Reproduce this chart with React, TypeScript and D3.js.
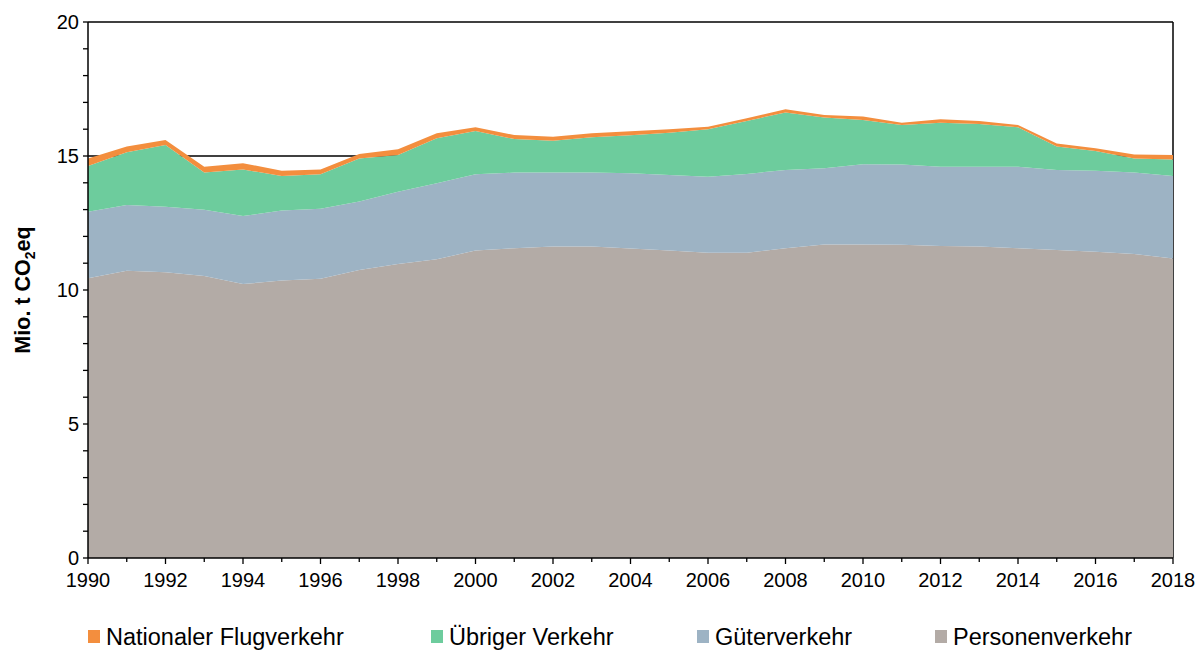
import React from "react";
import * as d3 from "d3";

const years = [1990,1991,1992,1993,1994,1995,1996,1997,1998,1999,2000,2001,2002,2003,2004,2005,2006,2007,2008,2009,2010,2011,2012,2013,2014,2015,2016,2017,2018];
const personenverkehr = [10.44,10.72,10.66,10.52,10.22,10.35,10.42,10.75,10.97,11.15,11.47,11.56,11.62,11.62,11.55,11.47,11.39,11.39,11.56,11.70,11.70,11.69,11.64,11.62,11.56,11.49,11.43,11.34,11.18];
const gueterverkehr = [2.48,2.45,2.45,2.47,2.54,2.62,2.61,2.55,2.70,2.83,2.85,2.82,2.76,2.76,2.81,2.82,2.84,2.94,2.92,2.84,2.99,2.99,2.96,2.98,3.04,2.99,3.02,3.04,3.07];
const uebrigerVerkehr = [1.71,1.97,2.30,1.39,1.74,1.28,1.29,1.61,1.37,1.68,1.61,1.25,1.19,1.32,1.41,1.58,1.77,1.98,2.14,1.90,1.65,1.48,1.64,1.59,1.47,0.87,0.74,0.53,0.62];
const flugverkehr = [0.28,0.21,0.19,0.22,0.23,0.20,0.18,0.16,0.21,0.19,0.14,0.15,0.15,0.15,0.15,0.13,0.09,0.10,0.12,0.09,0.13,0.08,0.13,0.12,0.09,0.12,0.10,0.15,0.17];

const seriesKeys = ["Personenverkehr", "Güterverkehr", "Übriger Verkehr", "Nationaler Flugverkehr"];
const seriesColors = ["#B3ABA6", "#9DB3C4", "#6DCC9D", "#F38E3E"];
const legendOrder = ["Nationaler Flugverkehr", "Übriger Verkehr", "Güterverkehr", "Personenverkehr"];
const yTickLabels = [0, 5, 10, 15, 20];
const xTickLabels = [1990,1992,1994,1996,1998,2000,2002,2004,2006,2008,2010,2012,2014,2016,2018];

export default function App() {
  const W = 1204, H = 651;
  const left = 88, right = 1173, top = 22, bottom = 558;
  const x = d3.scaleLinear().domain([1990, 2018]).range([left, right]);
  const y = d3.scaleLinear().domain([0, 20]).range([bottom, top]);

  const table = years.map((yr, i) => ({
    year: yr,
    "Personenverkehr": personenverkehr[i],
    "Güterverkehr": gueterverkehr[i],
    "Übriger Verkehr": uebrigerVerkehr[i],
    "Nationaler Flugverkehr": flugverkehr[i],
  }));
  const stacked = d3.stack<any>().keys(seriesKeys)(table);
  const area = d3.area<any>()
    .x((d) => x(d.data.year))
    .y0((d) => y(d[0]))
    .y1((d) => y(d[1]));

  const font = "Arial, 'Liberation Sans', sans-serif";
  const yMinor = d3.range(0, 21, 1);
  const xMinor = d3.range(1990, 2019, 1);
  const legendX = [88, 431, 697, 935];

  return (
    <svg width={W} height={H} style={{ position: "absolute", left: 0, top: 0, background: "#fff" }} fontFamily={font}>
      {[5, 10, 15, 20].map((v) => (
        <line key={"g" + v} x1={left} x2={right} y1={y(v)} y2={y(v)} stroke="#000" strokeWidth={1.5} />
      ))}
      <line x1={right} x2={right} y1={top} y2={bottom} stroke="#000" strokeWidth={1.5} />

      {stacked.map((s, i) => (
        <path key={s.key} d={area(s) || ""} fill={seriesColors[i]} />
      ))}

      <line x1={left} x2={left} y1={top} y2={bottom} stroke="#000" strokeWidth={1.5} />
      <line x1={left} x2={right} y1={bottom} y2={bottom} stroke="#000" strokeWidth={1.5} />
      {yMinor.map((v) => (
        <line key={"yt" + v} x1={left - 5} x2={left} y1={y(v)} y2={y(v)} stroke="#000" strokeWidth={1.3} />
      ))}
      {xMinor.map((v) => (
        <line key={"xt" + v} x1={x(v)} x2={x(v)} y1={bottom} y2={bottom + (v % 2 === 0 ? 6 : 4)} stroke="#000" strokeWidth={1.3} />
      ))}
      {yTickLabels.map((v) => (
        <text key={"yl" + v} x={left - 9} y={y(v)} dy="0.35em" textAnchor="end" fontSize={20} fill="#000">{v}</text>
      ))}
      {xTickLabels.map((v) => (
        <text key={"xl" + v} x={x(v)} y={bottom + 29} textAnchor="middle" fontSize={20} fill="#000">{v}</text>
      ))}

      <text transform={`translate(30, ${(top + bottom) / 2}) rotate(-90)`} textAnchor="middle" fontSize={21.5} fontWeight="bold" fill="#000">
        Mio. t CO<tspan fontSize={14} dy={5}>2</tspan><tspan dy={-5}>eq</tspan>
      </text>

      {legendOrder.map((k, i) => {
        const c = seriesColors[seriesKeys.indexOf(k)];
        return (
          <g key={k} transform={`translate(${legendX[i]}, 637)`}>
            <rect x={0} y={-7} width={12} height={13} fill={c} />
            <text x={18} y={0} dy="0.36em" fontSize={23.5} fill="#000">{k}</text>
          </g>
        );
      })}
    </svg>
  );
}
